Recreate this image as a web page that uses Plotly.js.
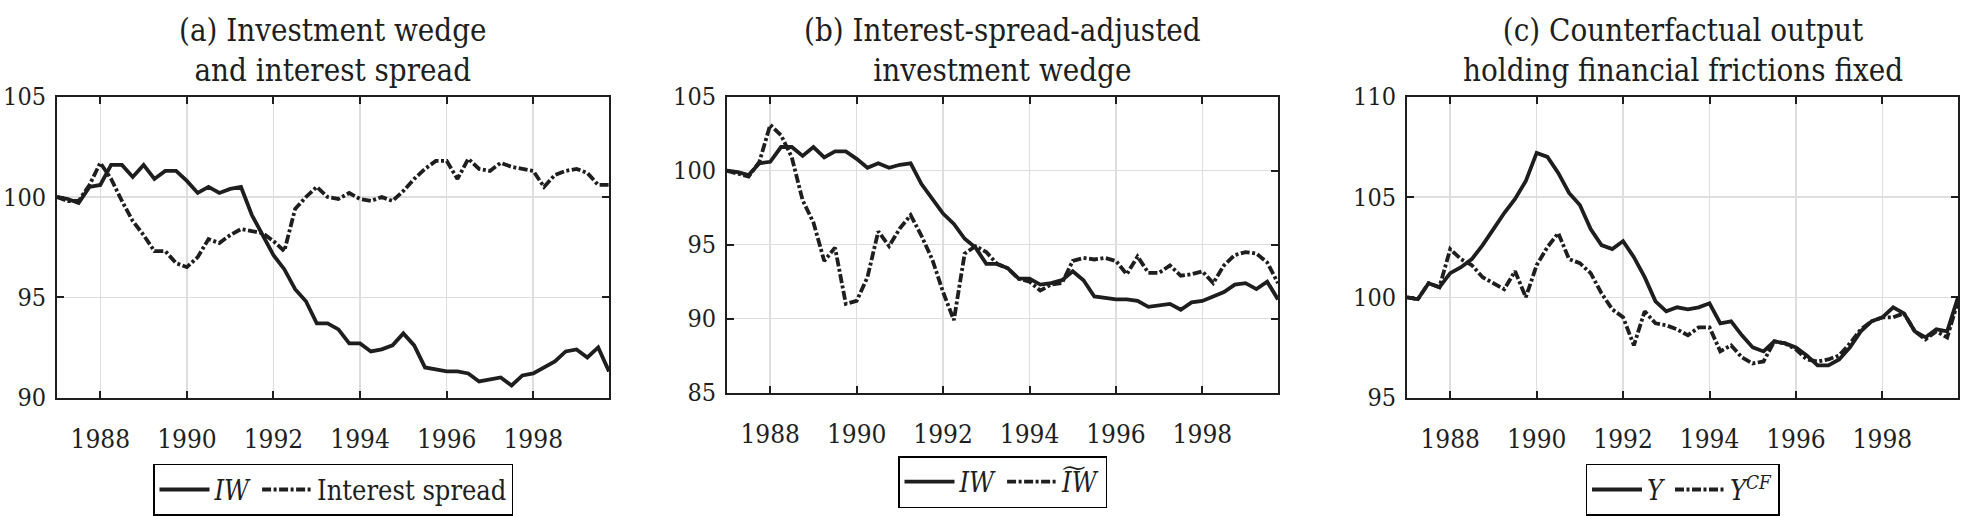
<!DOCTYPE html>
<html>
<head>
<meta charset="utf-8">
<script src="https://cdn.plot.ly/plotly-3.0.1.min.js"></script>
<style>
  html, body { margin: 0; padding: 0; background: #fff; }
  #fig { width: 1968px; height: 516px; }
</style>
</head>
<body>
<div id="fig"></div>
<script>
/* ── data: quarterly, 1987Q1 .. 1999Q4 (index 1987Q1 = 100) ── */
const START_YEAR = 1987;
const N_QUARTERS = 52;
const YEAR_TICKS = [1988, 1990, 1992, 1994, 1996, 1998];

const IW = [100.0, 99.9, 99.7, 100.5, 100.6, 101.6, 101.6, 101.0, 101.6, 100.9, 101.3, 101.3,
  100.8, 100.2, 100.5, 100.2, 100.4, 100.5, 99.1, 98.1, 97.1, 96.4, 95.4, 94.8,
  93.7, 93.7, 93.4, 92.7, 92.7, 92.3, 92.4, 92.6, 93.2, 92.6, 91.5, 91.4,
  91.3, 91.3, 91.2, 90.8, 90.9, 91.0, 90.6, 91.1, 91.2, 91.5, 91.8, 92.3,
  92.4, 92.0, 92.5, 91.3];

const SPREAD = [100.0, 99.8, 99.8, 100.6, 101.7, 100.9, 99.8, 98.8, 98.1, 97.3, 97.3, 96.7,
  96.5, 97.0, 97.9, 97.7, 98.1, 98.4, 98.3, 98.2, 97.8, 97.3, 99.4, 100.0,
  100.5, 100.0, 99.9, 100.2, 99.9, 99.8, 100.0, 99.8, 100.3, 100.9, 101.4, 101.8,
  101.8, 100.9, 101.9, 101.4, 101.3, 101.7, 101.5, 101.4, 101.3, 100.5, 101.1, 101.3,
  101.4, 101.2, 100.6, 100.6];

const IW_ADJ = [100.0, 99.8, 99.6, 100.6, 103.1, 102.4, 100.9, 98.0, 96.5, 93.9, 94.8, 91.0,
  91.2, 92.8, 95.9, 94.9, 96.1, 97.0, 95.6, 94.0, 91.8, 89.9, 94.4, 94.9,
  94.5, 93.7, 93.4, 92.7, 92.5, 91.9, 92.3, 92.4, 93.9, 94.1, 94.0, 94.1,
  93.9, 93.0, 94.2, 93.1, 93.1, 93.6, 92.9, 93.0, 93.2, 92.4, 93.6, 94.3,
  94.5, 94.4, 93.8, 92.4];

const Y_OUT = [100.0, 99.9, 100.7, 100.5, 101.2, 101.5, 101.9, 102.6, 103.4, 104.2, 104.9, 105.8,
  107.2, 107.0, 106.2, 105.2, 104.6, 103.4, 102.6, 102.4, 102.8, 102.0, 101.0, 99.8,
  99.3, 99.5, 99.4, 99.5, 99.7, 98.7, 98.8, 98.1, 97.5, 97.3, 97.8, 97.7,
  97.5, 97.1, 96.6, 96.6, 96.9, 97.5, 98.3, 98.8, 99.0, 99.5, 99.2, 98.3,
  98.0, 98.4, 98.3, 100.0];

const Y_CF = [100.0, 99.9, 100.7, 100.5, 102.4, 101.9, 101.6, 101.0, 100.7, 100.4, 101.3, 100.0,
  101.6, 102.5, 103.2, 101.9, 101.7, 101.2, 100.2, 99.4, 99.0, 97.6, 99.3, 98.7,
  98.6, 98.4, 98.1, 98.5, 98.5, 97.3, 97.6, 97.0, 96.7, 96.8, 97.8, 97.7,
  97.4, 96.9, 96.8, 96.9, 97.1, 97.7, 98.4, 98.8, 99.0, 99.0, 99.2, 98.3,
  97.9, 98.3, 98.0, 99.8];

const TITLES = [
  '(a) Investment wedge<br>and interest spread',
  '(b) Interest-spread-adjusted<br>investment wedge',
  '(c) Counterfactual output<br>holding financial frictions fixed'
];

const quarters = Array.from({ length: N_QUARTERS }, (_, i) => START_YEAR + i * 0.25);

/* ── styling ── */
const INK   = '#1e1e1e';
const FONT  = '"DejaVu Serif Condensed", "DejaVu Serif", serif';
const SOLID = { color: INK, width: 3.8 };
const DASH  = { color: INK, width: 3.8, dash: '9px,2.5px,3px,2.5px' };

// panel boxes in pixels: [left, right, top, bottom]
const W = 1968, H = 516;
const BOX = [[57, 609, 99, 407], [727, 1278, 99, 402], [1407, 1958, 99, 407]];
const LEGEND_TOP = [475, 467, 475];
const centre = b => ((b[0] + b[1]) / 2) / W;

function xAxis(i) {
  const b = BOX[i];
  return {
    domain: [b[0] / W, b[1] / W], anchor: 'y' + (i ? i + 1 : ''),
    range: [START_YEAR, START_YEAR + 12.75],
    tickvals: YEAR_TICKS, ticks: 'inside', ticklen: 7, tickwidth: 2, tickcolor: INK,
    showline: true, linecolor: INK, linewidth: 2, mirror: 'ticks',
    showgrid: true, gridcolor: '#dedede', gridwidth: 1.5, zeroline: false,
    tickfont: { size: 26, family: FONT, color: INK }, ticklabelstandoff: 17
  };
}
function yAxis(i, range, dtick) {
  const b = BOX[i];
  return {
    domain: [1 - b[3] / H, 1 - b[2] / H], anchor: 'x' + (i ? i + 1 : ''),
    range: range, dtick: dtick, ticks: 'inside', ticklen: 7, tickwidth: 2, tickcolor: INK,
    showline: true, linecolor: INK, linewidth: 2, mirror: 'ticks',
    showgrid: true, gridcolor: '#dedede', gridwidth: 1.5, zeroline: false,
    tickfont: { size: 25, family: FONT, color: INK }, ticklabelstandoff: 4
  };
}
function legendAt(i) {
  return {
    orientation: 'h', x: centre(BOX[i]), xanchor: 'center',
    y: 1 - LEGEND_TOP[i] / H, yanchor: 'top',
    bgcolor: '#fff', bordercolor: '#000', borderwidth: 1.5,
    font: { size: 27, family: FONT, color: INK }, itemwidth: 50, tracegroupgap: 0
  };
}

const traces = [
  { x: quarters, y: IW,     name: '<i>IW</i>',            line: SOLID, legend: 'legend',  xaxis: 'x',  yaxis: 'y' },
  { x: quarters, y: SPREAD, name: 'Interest spread',      line: DASH,  legend: 'legend',  xaxis: 'x',  yaxis: 'y' },
  { x: quarters, y: IW,     name: '<i>IW</i>',            line: SOLID, legend: 'legend2', xaxis: 'x2', yaxis: 'y2' },
  { x: quarters, y: IW_ADJ, name: '<i>I\u0360W</i>',      line: DASH,  legend: 'legend2', xaxis: 'x2', yaxis: 'y2' },
  { x: quarters, y: Y_OUT,  name: '<i>Y</i>',             line: SOLID, legend: 'legend3', xaxis: 'x3', yaxis: 'y3' },
  { x: quarters, y: Y_CF,   name: '<i>Y</i><sup><i>CF</i></sup>', line: DASH, legend: 'legend3', xaxis: 'x3', yaxis: 'y3' }
].map(t => ({ ...t, type: 'scatter', mode: 'lines' }));

const layout = {
  width: W, height: H,
  margin: { l: 0, r: 0, t: 0, b: 0 },
  paper_bgcolor: '#fff', plot_bgcolor: '#fff',
  font: { family: FONT, color: INK, size: 26 },
  showlegend: true,
  xaxis: xAxis(0), xaxis2: xAxis(1), xaxis3: xAxis(2),
  yaxis: yAxis(0, [90, 105], 5), yaxis2: yAxis(1, [85, 105], 5), yaxis3: yAxis(2, [95, 110], 5),
  legend: legendAt(0), legend2: legendAt(1), legend3: legendAt(2),
  annotations: TITLES.map((t, i) => ({
    text: t, xref: 'paper', yref: 'paper', x: centre(BOX[i]), y: 1 - 92 / H,
    xanchor: 'center', yanchor: 'bottom', showarrow: false,
    font: { size: 31, family: FONT, color: INK }
  }))
};

Plotly.newPlot('fig', traces, layout, { staticPlot: true });
</script>
</body>
</html>
